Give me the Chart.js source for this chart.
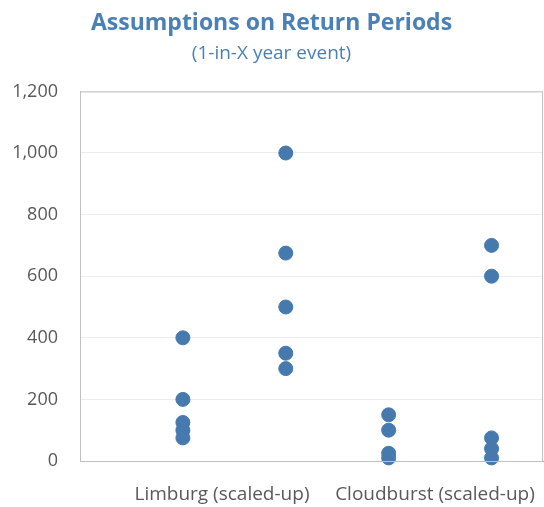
<!DOCTYPE html>
<html>
<head>
<meta charset="utf-8">
<script src="https://cdn.jsdelivr.net/npm/chart.js@4"></script>
<style>
  html, body { margin: 0; padding: 0; background: #fff; }
  #wrap { width: 544px; height: 507px; }
</style>
</head>
<body>
<div id="wrap"><canvas id="chart" width="544" height="507"></canvas></div>
<script>
// values, one array per column of dots
const limburg = [400, 200, 125, 100, 75];
const limburgScaled = [1000, 675, 500, 350, 300];
const cloudburst = [150, 100, 25, 10];
const cloudburstScaled = [700, 600, 75, 40, 10];

const columns = [limburg, limburgScaled, cloudburst, cloudburstScaled];
const xLabels = ['Limburg (scaled-up)', 'Cloudburst (scaled-up)'];
const yTicks = [0, 200, 400, 600, 800, 1000, 1200];

const blue = '#4679ad';
const titleBlue = '#4b80b6';
const textGrey = '#595959';

const points = [];
columns.forEach((col, i) => {
    col.forEach(v => points.push({ x: i + 1, y: v }));
});

// label positions on the x axis (between the dot columns, as in the original)
const labelPos = [1.38, 3.45];

// the point radius otherwise reserves space on the right of the plot
Chart.registry.getController('scatter').prototype.getMaxOverflow = () => 0;

const frame = {
    id: 'frame',
    afterDraw(chart) {
        const { ctx, chartArea: a } = chart;
        ctx.save();
        ctx.strokeStyle = '#c0c0c0';
        ctx.lineWidth = 1;
        ctx.strokeRect(a.left + 0.5, a.top + 0.5, a.right - a.left - 1, a.bottom - a.top);
        ctx.restore();
    }
};

new Chart(document.getElementById('chart').getContext('2d'), {
    type: 'scatter',
    data: {
        datasets: [{
            data: points,
            backgroundColor: blue,
            borderColor: blue,
            pointRadius: 7,
            pointHoverRadius: 7,
            clip: false
        }]
    },
    options: {
        responsive: false,
        animation: false,
        layout: { padding: { left: 0, right: 1, top: 0, bottom: 0 } },
        plugins: {
            legend: { display: false },
            tooltip: { enabled: false },
            title: {
                display: true,
                text: 'Assumptions on Return Periods',
                color: titleBlue,
                font: { family: 'Open Sans', size: 23, weight: 'bold' },
                padding: { top: 10, bottom: 5 }
            },
            subtitle: {
                display: true,
                text: '(1-in-X year event)',
                color: titleBlue,
                font: { family: 'Open Sans', size: 19 },
                padding: { top: 0, bottom: 26 }
            }
        },
        scales: {
            x: {
                type: 'linear',
                min: 0,
                max: 4.5,
                grid: { display: false },
                border: { display: true, color: '#a6a6a6' },
                afterBuildTicks: axis => {
                    axis.ticks = labelPos.map(v => ({ value: v }));
                },
                afterFit: axis => {
                    // keep the long labels from shrinking the plot area
                    axis.paddingLeft = 0;
                    axis.paddingRight = 0;
                    axis.height = 46;
                },
                ticks: {
                    autoSkip: false,
                    maxRotation: 0,
                    padding: 14,
                    color: textGrey,
                    font: { family: 'Open Sans', size: 19 },
                    callback: (val, idx) => xLabels[idx]
                }
            },
            y: {
                min: 0,
                max: 1200,
                afterBuildTicks: axis => {
                    axis.ticks = yTicks.map(v => ({ value: v }));
                },
                afterFit: axis => {
                    axis.width = 80;
                    axis.paddingLeft = 0;
                    axis.paddingRight = 0;
                },
                grid: { color: '#ececec', drawTicks: false },
                border: { display: true, color: '#c0c0c0' },
                ticks: {
                    padding: 22,
                    color: textGrey,
                    font: { family: 'Open Sans', size: 18 },
                    callback: value => value.toLocaleString('en-US')
                }
            }
        }
    },
    plugins: [frame]
});
</script>
</body>
</html>
